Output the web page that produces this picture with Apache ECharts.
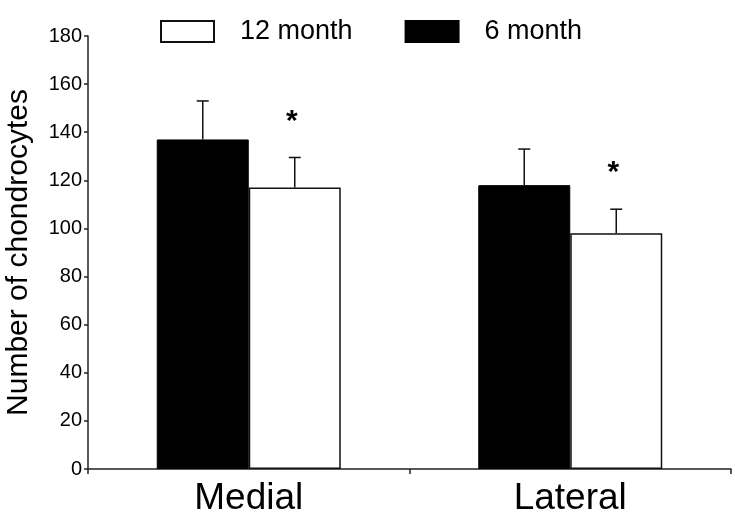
<!DOCTYPE html>
<html>
<head>
<meta charset="utf-8">
<script src="https://cdn.jsdelivr.net/npm/echarts@6/dist/echarts.min.js"></script>
<style>
html,body{margin:0;padding:0;background:#fff;}
#chart{width:735px;height:519px;}
</style>
</head>
<body>
<div id="chart"></div>
<script>
var categories = ['Medial', 'Lateral'];
var sixMonth = [137, 118];
var twelveMonth = [117, 98];
var sixMonthErr = [16, 15];
var twelveMonthErr = [12.5, 10];
var significance = ['*', '*'];
var yTicks = [0, 20, 40, 60, 80, 100, 120, 140, 160, 180];

var BAR_W = 92;
var FONT = '"Liberation Sans", Arial, sans-serif';

function errItem(values, errs, dir, showStar) {
  return function (params, api) {
    var i = api.value(0);
    var v = api.value(1);
    var e = api.value(2);
    var base = api.coord([i, v]);
    var top = api.coord([i, v + e]);
    var x = base[0] + dir * BAR_W / 2;
    var children = [
      { type: 'line', shape: { x1: x, y1: base[1], x2: x, y2: top[1] }, style: { stroke: '#111', lineWidth: 1.5 } },
      { type: 'line', shape: { x1: x - 6, y1: top[1], x2: x + 6, y2: top[1] }, style: { stroke: '#111', lineWidth: 1.5 } }
    ];
    if (showStar && significance[i]) {
      children.push({
        type: 'text',
        style: { text: significance[i], x: x - 3, y: top[1] - 36, align: 'center', verticalAlign: 'middle',
                 font: 'bold 30px ' + FONT, fill: '#000' }
      });
    }
    return { type: 'group', children: children };
  };
}

var chart = echarts.init(document.getElementById('chart'));
chart.setOption({
  animation: false,
  backgroundColor: '#fff',
  grid: { left: 88, right: 4, top: 36, bottom: 50, containLabel: false, outerBoundsMode: 'none' },
  legend: {
    data: ['12 month', '6 month'],
    left: 155, top: 13,
    itemWidth: 53, itemHeight: 21, itemGap: 52,
    icon: 'rect',
    textStyle: { fontSize: 27, fontFamily: FONT, color: '#000', padding: [0, 0, 0, 21] }
  },
  xAxis: {
    type: 'category',
    data: categories,
    axisLine: { lineStyle: { color: '#222', width: 1.5 } },
    axisTick: { show: true, length: 5, lineStyle: { color: '#222', width: 1.5 } },
    axisLabel: { fontSize: 37, fontFamily: FONT, color: '#000', margin: 11 }
  },
  yAxis: {
    type: 'value',
    min: 0, max: 180, interval: 20,
    name: 'Number of chondrocytes',
    nameLocation: 'middle',
    nameGap: 54,
    nameTextStyle: { fontSize: 30, fontFamily: FONT, color: '#000' },
    axisLine: { show: true, lineStyle: { color: '#222', width: 1.5 } },
    axisTick: { show: true, length: 4, lineStyle: { color: '#222', width: 1.5 } },
    splitLine: { show: false },
    axisLabel: { fontSize: 20, fontFamily: FONT, color: '#000', margin: 6,
                 formatter: function (v) { return yTicks.indexOf(v) >= 0 ? String(v) : ''; } }
  },
  series: [
    {
      name: '6 month', type: 'bar', data: sixMonth, barWidth: BAR_W, barGap: '0%',
      itemStyle: { color: '#000', borderColor: '#000', borderWidth: 1 }
    },
    {
      name: '12 month', type: 'bar', data: twelveMonth, barWidth: BAR_W, barGap: '0%',
      itemStyle: { color: '#fff', borderColor: '#111', borderWidth: 1.5 }
    },
    {
      name: 'err6', type: 'custom', z: 5,
      data: sixMonth.map(function (v, i) { return [i, v, sixMonthErr[i]]; }),
      renderItem: errItem(sixMonth, sixMonthErr, -1, false)
    },
    {
      name: 'err12', type: 'custom', z: 5,
      data: twelveMonth.map(function (v, i) { return [i, v, twelveMonthErr[i]]; }),
      renderItem: errItem(twelveMonth, twelveMonthErr, 1, true)
    }
  ]
});
</script>
</body>
</html>
